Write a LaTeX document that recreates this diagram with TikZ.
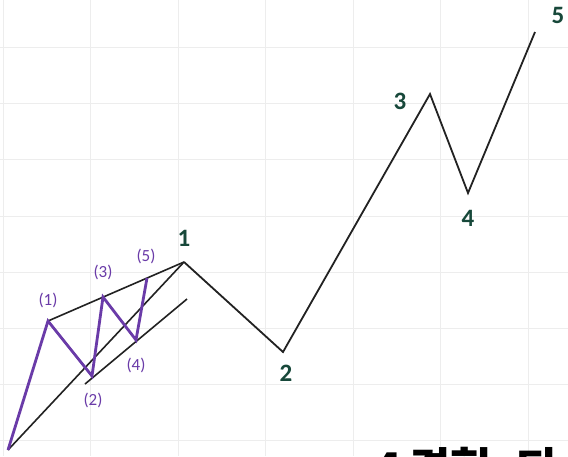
\documentclass[tikz,border=0pt]{standalone}
\usepackage{fontspec}
\setmainfont{Carlito}
\newfontfamily\krfont{Noto Sans CJK KR}
\definecolor{gridc}{HTML}{EDEDED}
\definecolor{wavec}{HTML}{222222}
\definecolor{purp}{HTML}{6A3BA8}
\definecolor{lblg}{HTML}{17483A}
\tikzset{
  gridline/.style={draw=gridc, line width=0.9pt},
  mainwave/.style={draw=wavec, line width=1.8pt, line join=miter},
  chanline/.style={draw=wavec, line width=1.6pt},
  subwave/.style={draw=purp, line width=2.8pt, line join=miter},
  sublbl/.style={text=purp, font=\fontsize{17}{19}\selectfont, inner sep=0pt},
  mainlbl/.style={text=lblg, font=\fontsize{25}{28}\selectfont\bfseries, inner sep=0pt},
  krtext/.style={text=black, font=\krfont\fontsize{45}{50}\selectfont\bfseries, inner sep=0pt, anchor=base west}
}
\begin{document}
\begin{tikzpicture}[x=1pt,y=-1pt]
\useasboundingbox (0,0) rectangle (568,456);
\clip (0,0) rectangle (568,456);
\fill[white] (0,0) rectangle (568,456);
% grid
\foreach \gx in {3,90.5,178,265.5,353,440.5,528} \draw[gridline] (\gx,0) -- (\gx,456);
\foreach \gy in {47,103,159,216,272,328,384,440} \draw[gridline] (0,\gy) -- (568,\gy);
% points
\coordinate (s) at (8,450);
\coordinate (p1) at (184,262);
\coordinate (p2) at (283,352);
\coordinate (p3) at (430,94);
\coordinate (p4) at (468,193);
\coordinate (p5) at (535,32);
\coordinate (q1) at (48,321);
\coordinate (q2) at (92,376);
\coordinate (q3) at (103,297);
\coordinate (q4) at (136,340);
\coordinate (q5) at (147,278);
\coordinate (la) at (85,384);
\coordinate (lb) at (187,299);
% channel lines
\draw[chanline] (s) -- (p1);
\draw[chanline] (q1) -- (p1);
\draw[chanline] (la) -- (lb);
% main wave
\draw[mainwave] (p1) -- (p2) -- (p3) -- (p4) -- (p5);
% sub wave
\draw[subwave] (s) -- (q1) -- (q2) -- (q3) -- (q4) -- (q5);
% sub labels
\node[sublbl] (l1) at (48,300) {(1)};
\node[sublbl] (l2) at (93,400) {(2)};
\node[sublbl] (l3) at (103,272) {(3)};
\node[sublbl] (l4) at (136,365) {(4)};
\node[sublbl] (l5) at (146,256) {(5)};
% main labels
\node[mainlbl] (m1) at (184,238) {1};
\node[mainlbl] (m2) at (286,373) {2};
\node[mainlbl] (m3) at (400,101) {3};
\node[mainlbl] (m4) at (468,218) {4};
\node[mainlbl] (m5) at (558,15) {5};
% cut-off text at the bottom
\node[krtext] (k1) at (374,485) {4};
\node[krtext] (k2) at (409,485) {경험};
\node[krtext] (k3) at (515,485) {되};
\end{tikzpicture}
\end{document}
